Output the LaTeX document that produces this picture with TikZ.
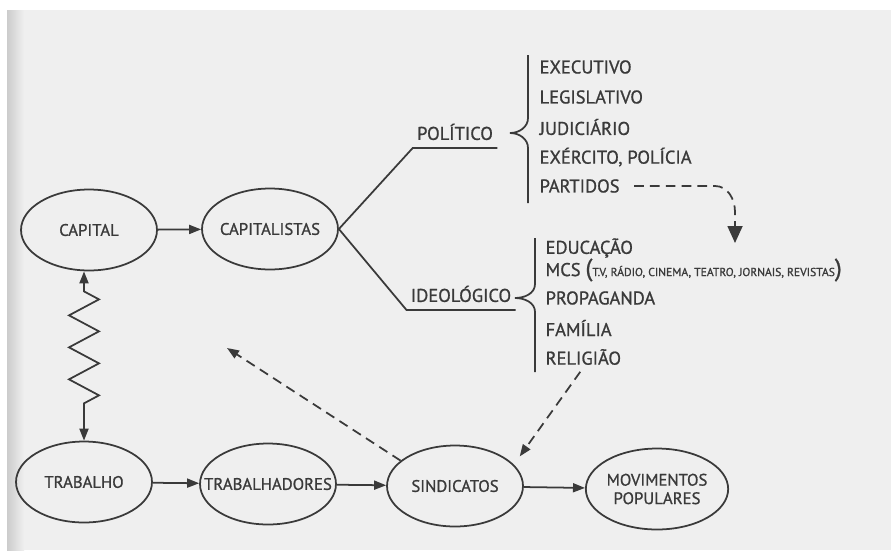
\documentclass[tikz,border=0pt]{standalone}
\usepackage{fontspec}
\setmainfont{PT Sans}[FakeBold=1.0]
\usetikzlibrary{shapes.geometric,arrows.meta,decorations.pathmorphing}
\definecolor{grafite}{HTML}{3A3A3A}
\definecolor{papel}{HTML}{EFEFEF}

\begin{document}
\begin{tikzpicture}[x=0.02cm,y=-0.02cm,line width=1pt,color=grafite,
    bola/.style={ellipse,draw,minimum width=2.72cm,minimum height=1.62cm,
      inner sep=0pt,align=center,font=\fontsize{9.5}{10.5}\selectfont},
    ramo/.style={anchor=south,inner xsep=2pt,inner ysep=4pt,
      font=\fontsize{10.5}{12}\selectfont},
    item/.style={anchor=west,inner sep=1pt,font=\fontsize{10.5}{12}\selectfont},
    seta/.style={-{Triangle[length=2.4mm,width=1.8mm]}},
    setagrande/.style={-{Triangle[length=3.4mm,width=3mm]}},
    tracejado/.style={dash pattern=on 5.5pt off 3.5pt}]
  \useasboundingbox (0,0) rectangle (891,558);
  % folha escaneada
  \fill[white] (0,0) rectangle (891,558);
  \fill[papel] (7,10) rectangle (891,550);
  \shade[left color=gray!40,right color=papel] (7,10) rectangle (24,550);

  \draw
    (89,230) node[bola] (capital){CAPITAL}
    (270,229) node[bola] (capitalistas){\makebox[0pt]{CAPITALISTAS}}
    (84,482) node[bola] (trabalho){TRABALHO}
    (268,484) node[bola] (trabalhadores){\makebox[0pt]{TRABALHADORES}}
    (455,486) node[bola] (sindicatos){SINDICATOS}
    (657,489) node[bola] (movimentos){MOVIMENTOS\\POPULARES};
  \draw
    (455,148) node[ramo] (politico){POLÍTICO}
    (461,310) node[ramo] (ideologico){IDEOLÓGICO};
  \draw
    (537,67) node[item] (executivo){EXECUTIVO}
    (537,97) node[item] (legislativo){LEGISLATIVO}
    (537,127) node[item] (judiciario){JUDICIÁRIO}
    (537,157) node[item] (exercito){EXÉRCITO, POLÍCIA}
    (537,186) node[item] (partidos){PARTIDOS}
    (543,248) node[item] (educacao){EDUCAÇÃO}
    (543,270) node[item] (mcs){MCS {\fontsize{14}{14}\selectfont(}{\fontsize{6.6}{7}\selectfont T.V, RÁDIO, CINEMA, TEATRO, JORNAIS, REVISTAS}{\fontsize{14}{14}\selectfont)}}
    (543,298) node[item] (propaganda){PROPAGANDA}
    (543,328) node[item] (familia){FAMÍLIA}
    (543,357) node[item] (religiao){RELIGIÃO};
  \coordinate (alvo) at (227,348);
  \coordinate (educ) at (735,243);

  % chaves
  \draw (528,55) -- (528,118) to[out=-90,in=0] (510,133)
    to[out=0,in=90] (528,148) -- (528,203);
  \draw (535,238) -- (535,284) to[out=-90,in=0] (515,298)
    to[out=0,in=90] (535,312) -- (535,372);

  \begin{scope}[seta]
    \draw (capital) to (capitalistas);
    \draw (trabalho) to (trabalhadores);
    \draw (trabalhadores) to (sindicatos);
    \draw (sindicatos) to (movimentos);
  \end{scope}
  \begin{scope}[-]
    \draw (capitalistas.east) to (politico.south west) to (politico.south east);
    \draw (capitalistas.east) to (ideologico.south west) to (ideologico.south east);
  \end{scope}
  \draw[{Triangle[length=2.4mm,width=1.8mm]}-{Triangle[length=2.4mm,width=1.8mm]},
    decorate,decoration={zigzag,amplitude=0.3cm,segment length=0.64cm,
      pre length=0.4cm,post length=0.55cm}]
    (capital.south -| trabalho.north) -- (trabalho.north);
  \begin{scope}[tracejado]
    \draw[seta] (sindicatos.155) to (alvo);
    \draw[seta,shorten <=3pt,shorten >=0.2cm] (religiao.south) to (sindicatos.20);
    \draw[setagrande,shorten <=0.24cm] (partidos.east) -- (715,186)
      to[out=0,in=90] (735,212) -- (educ);
  \end{scope}
\end{tikzpicture}
\end{document}
